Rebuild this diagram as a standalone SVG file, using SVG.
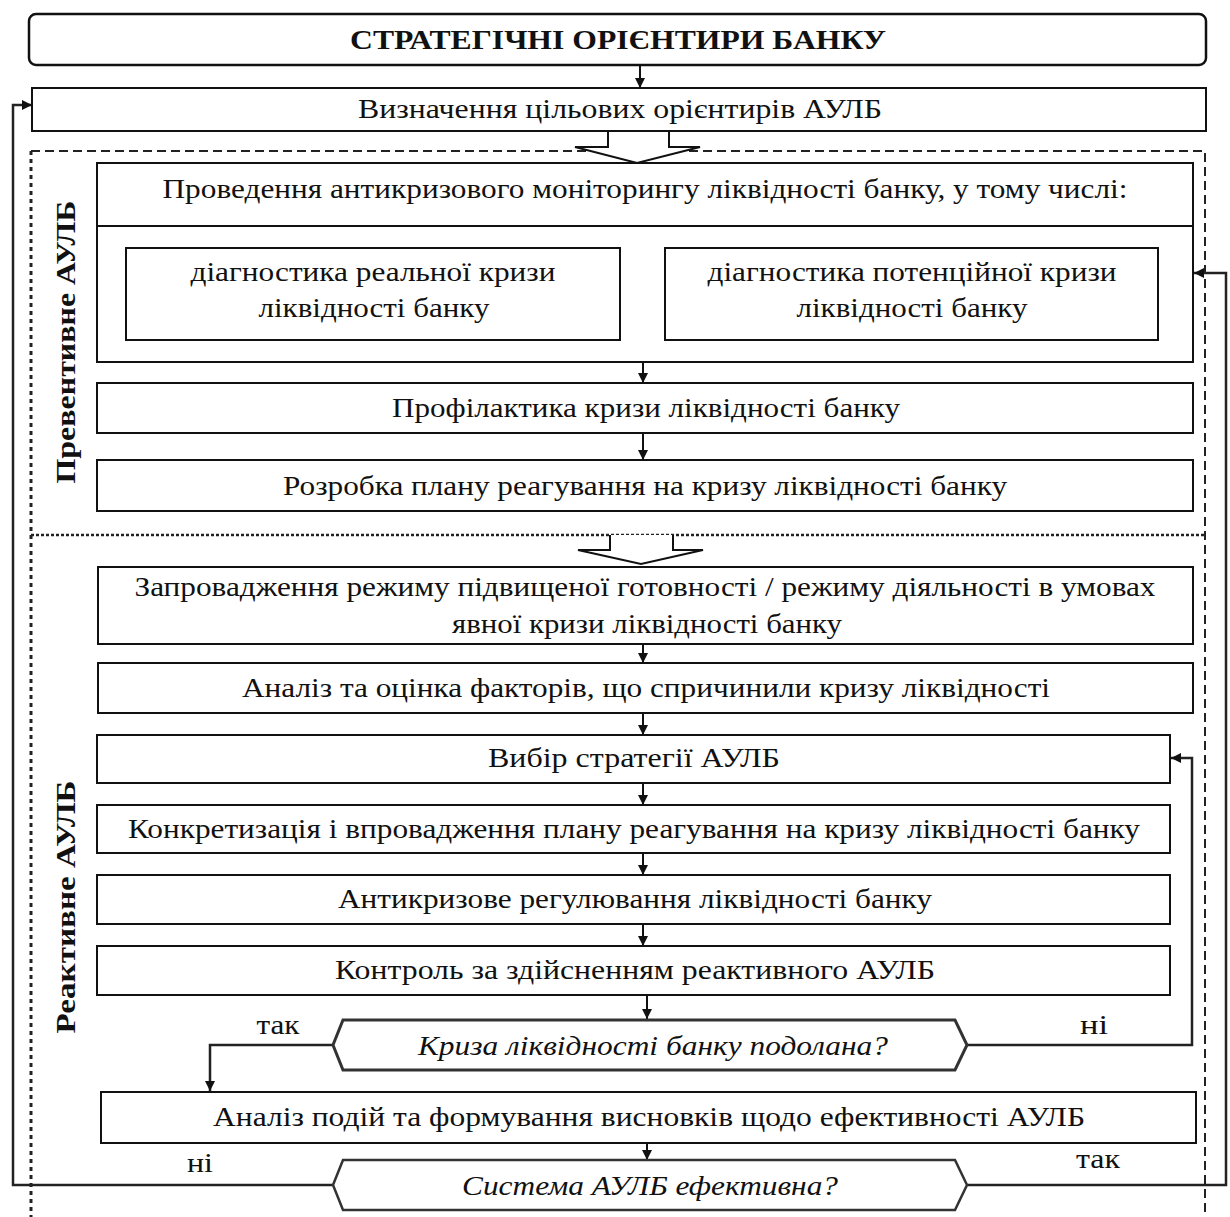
<svg xmlns="http://www.w3.org/2000/svg" width="1230" height="1217" viewBox="0 0 1230 1217">
<style>
.box{fill:#fff;stroke:#111;stroke-width:2}
.dec{fill:#fff;stroke:#333;stroke-width:3}
.t{font-family:"Liberation Serif","Times New Roman",serif;font-size:28px;fill:#111;text-anchor:middle}
.b{font-weight:bold}
.i{font-style:italic}
.ln{fill:none;stroke:#111;stroke-width:2}
.fb{fill:none;stroke:#222;stroke-width:2.5}
.dash{fill:none;stroke:#222;stroke-width:2;stroke-dasharray:9 5}
.dot{fill:none;stroke:#222;stroke-width:3;stroke-dasharray:4 4}
.blk{fill:#fff;stroke:#111;stroke-width:2;stroke-linejoin:miter}
</style>
<defs>
<marker id="ah" viewBox="0 0 10 10" refX="10" refY="5" markerWidth="10" markerHeight="10" markerUnits="userSpaceOnUse" orient="auto">
<path d="M0,0 L10,5 L0,10 z" fill="#111"/>
</marker>
</defs>
<rect width="1230" height="1217" fill="#fff"/>

<g id="regions">
<path class="dash" d="M31,151 H1205 V1217"/>
<path class="dot" d="M31,151 V1217"/>
<path class="dot" d="M31,535 H1205" style="stroke-width:2.5;stroke-dasharray:3 2"/>
<text class="t b" transform="translate(75,342) rotate(-90)" textLength="283" lengthAdjust="spacingAndGlyphs">Превентивне АУЛБ</text>
<text class="t b" transform="translate(75,907) rotate(-90)" textLength="253" lengthAdjust="spacingAndGlyphs">Реактивне АУЛБ</text>
</g>

<g id="connectors">
<line class="ln" x1="640" y1="65" x2="640" y2="88" marker-end="url(#ah)"/>
<line class="ln" x1="368" y1="226" x2="368" y2="248" marker-end="url(#ah)"/>
<line class="ln" x1="900" y1="226" x2="900" y2="248" marker-end="url(#ah)"/>
<line class="ln" x1="643" y1="362" x2="643" y2="383" marker-end="url(#ah)"/>
<line class="ln" x1="643" y1="433" x2="643" y2="460" marker-end="url(#ah)"/>
<line class="ln" x1="643" y1="644" x2="643" y2="663" marker-end="url(#ah)"/>
<line class="ln" x1="643" y1="713" x2="643" y2="735" marker-end="url(#ah)"/>
<line class="ln" x1="643" y1="783" x2="643" y2="805" marker-end="url(#ah)"/>
<line class="ln" x1="643" y1="853" x2="643" y2="875" marker-end="url(#ah)"/>
<line class="ln" x1="643" y1="924" x2="643" y2="946" marker-end="url(#ah)"/>
<line class="ln" x1="647" y1="995" x2="647" y2="1019" marker-end="url(#ah)"/>
<line class="ln" x1="647" y1="1143" x2="647" y2="1160" marker-end="url(#ah)"/>
<path class="fb" d="M333,1045 H210 V1091" marker-end="url(#ah)"/>
<path class="fb" d="M967,1045 H1192 V758 H1171" marker-end="url(#ah)"/>
<path class="fb" d="M967,1185 H1226 V273 H1194" marker-end="url(#ah)"/>
<path class="fb" d="M333,1185 H13 V105 H32" marker-end="url(#ah)"/>
<path class="blk" d="M608,131 V147 H575 L637,163 L700,147 H669 V131"/>
<path class="blk" d="M610,535 V550 H578 L641,564 L703,550 H673 V535"/>
<text class="t" x="278" y="1034" textLength="43" lengthAdjust="spacingAndGlyphs">так</text>
<text class="t" x="1094" y="1034" textLength="28" lengthAdjust="spacingAndGlyphs">ні</text>
<text class="t" x="200" y="1172" textLength="26" lengthAdjust="spacingAndGlyphs">ні</text>
<text class="t" x="1098" y="1168" textLength="44" lengthAdjust="spacingAndGlyphs">так</text>
</g>

<g id="n-top">
<rect class="box" x="29" y="14" width="1177" height="51" rx="7" style="stroke-width:2.5"/>
<text class="t b" x="618" y="49" textLength="536" lengthAdjust="spacingAndGlyphs">СТРАТЕГІЧНІ ОРІЄНТИРИ БАНКУ</text>
</g>
<g id="n-targets">
<rect class="box" x="32" y="88" width="1174" height="43"/>
<text class="t" x="620" y="118" textLength="524" lengthAdjust="spacingAndGlyphs">Визначення цільових орієнтирів АУЛБ</text>
</g>
<g id="n-monitoring">
<rect class="box" x="97" y="163" width="1096" height="199"/>
<line class="ln" x1="97" y1="226" x2="1193" y2="226"/>
<text class="t" x="645" y="198" textLength="965" lengthAdjust="spacingAndGlyphs">Проведення антикризового моніторингу ліквідності банку, у тому числі:</text>
</g>
<g id="n-real">
<rect class="box" x="126" y="248" width="494" height="92"/>
<text class="t" x="373" y="281" textLength="365" lengthAdjust="spacingAndGlyphs">діагностика реальної кризи</text>
<text class="t" x="374" y="317" textLength="231" lengthAdjust="spacingAndGlyphs">ліквідності банку</text>
</g>
<g id="n-potential">
<rect class="box" x="665" y="248" width="493" height="92"/>
<text class="t" x="912" y="281" textLength="409" lengthAdjust="spacingAndGlyphs">діагностика потенційної кризи</text>
<text class="t" x="912" y="317" textLength="231" lengthAdjust="spacingAndGlyphs">ліквідності банку</text>
</g>
<g id="n-prevention">
<rect class="box" x="97" y="383" width="1096" height="50"/>
<text class="t" x="646" y="417" textLength="508" lengthAdjust="spacingAndGlyphs">Профілактика кризи ліквідності банку</text>
</g>
<g id="n-plan">
<rect class="box" x="97" y="460" width="1096" height="51"/>
<text class="t" x="645" y="495" textLength="724" lengthAdjust="spacingAndGlyphs">Розробка плану реагування на кризу ліквідності банку</text>
</g>
<g id="n-mode">
<rect class="box" x="98" y="567" width="1095" height="77"/>
<text class="t" x="645" y="596" textLength="1021" lengthAdjust="spacingAndGlyphs">Запровадження режиму підвищеної готовності / режиму діяльності в умовах</text>
<text class="t" x="647" y="633" textLength="390" lengthAdjust="spacingAndGlyphs">явної кризи ліквідності банку</text>
</g>
<g id="n-analysis">
<rect class="box" x="98" y="663" width="1095" height="50"/>
<text class="t" x="646" y="697" textLength="808" lengthAdjust="spacingAndGlyphs">Аналіз та оцінка факторів, що спричинили кризу ліквідності</text>
</g>
<g id="n-strategy">
<rect class="box" x="97" y="735" width="1073" height="48"/>
<text class="t" x="634" y="767" textLength="292" lengthAdjust="spacingAndGlyphs">Вибір стратегії АУЛБ</text>
</g>
<g id="n-concretize">
<rect class="box" x="97" y="805" width="1073" height="48"/>
<text class="t" x="634" y="838" textLength="1012" lengthAdjust="spacingAndGlyphs">Конкретизація і впровадження плану реагування на кризу ліквідності банку</text>
</g>
<g id="n-regulation">
<rect class="box" x="97" y="875" width="1073" height="49"/>
<text class="t" x="635" y="908" textLength="594" lengthAdjust="spacingAndGlyphs">Антикризове регулювання ліквідності банку</text>
</g>
<g id="n-control">
<rect class="box" x="97" y="946" width="1073" height="49"/>
<text class="t" x="635" y="979" textLength="600" lengthAdjust="spacingAndGlyphs">Контроль за здійсненням реактивного АУЛБ</text>
</g>
<g id="n-overcome">
<polygon class="dec" points="333,1045 343,1020 955,1020 967,1045 955,1070 343,1070"/>
<text class="t i" x="653" y="1055" textLength="470" lengthAdjust="spacingAndGlyphs">Криза ліквідності банку подолана?</text>
</g>
<g id="n-events">
<rect class="box" x="101" y="1092" width="1095" height="51"/>
<text class="t" x="649" y="1126" textLength="872" lengthAdjust="spacingAndGlyphs">Аналіз подій та формування висновків щодо ефективності АУЛБ</text>
</g>
<g id="n-effective">
<polygon class="dec" points="333,1185 343,1160 955,1160 967,1185 955,1210 343,1210" style="stroke-width:2.5"/>
<text class="t i" x="650" y="1195" textLength="376" lengthAdjust="spacingAndGlyphs">Система АУЛБ ефективна?</text>
</g>
</svg>
